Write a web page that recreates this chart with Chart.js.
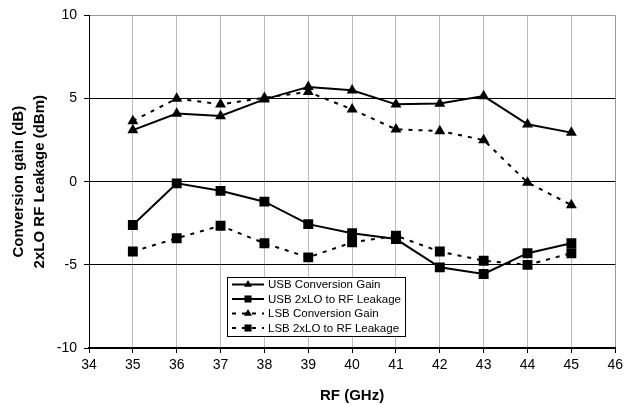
<!DOCTYPE html>
<html>
<head>
<meta charset="utf-8">
<script src="https://cdn.jsdelivr.net/npm/chart.js@4/dist/chart.umd.min.js"></script>
<style>
  html, body { margin: 0; padding: 0; background: #fff; }
  #wrap { width: 627px; height: 405px; position: relative; }
</style>
</head>
<body>
<div id="wrap"><canvas id="c" width="627" height="405"></canvas></div>
<script>
// RF frequency (GHz)
const rf = [35, 36, 37, 38, 39, 40, 41, 42, 43, 44, 45];

// Conversion gain (dB)
const usbGain = [3.1, 4.1, 3.95, 4.95, 5.7, 5.5, 4.65, 4.7, 5.15, 3.45, 2.95];
const lsbGain = [3.65, 5.0, 4.65, 5.05, 5.4, 4.35, 3.15, 3.05, 2.5, -0.05, -1.4];

// 2xLO to RF leakage (dBm)
const usbLeak = [-2.6, -0.1, -0.55, -1.2, -2.55, -3.1, -3.45, -5.15, -5.55, -4.3, -3.7];
const lsbLeak = [-4.2, -3.4, -2.65, -3.7, -4.55, -3.65, -3.25, -4.2, -4.75, -5.0, -4.3];

const seriesNames = [
  'USB Conversion Gain',
  'USB 2xLO to RF Leakage',
  'LSB Conversion Gain',
  'LSB 2xLO to RF Leakage'
];

const FONT = "'Liberation Sans', Arial, sans-serif";
const DOTS = [4, 6];

function pts(ys) { return rf.map((x, i) => ({ x: x, y: ys[i] })); }

function series(label, ys, style, dashed) {
  return {
    label: label,
    data: pts(ys),
    borderColor: '#000',
    backgroundColor: '#000',
    borderWidth: 2,
    borderDash: dashed ? DOTS : [],
    pointStyle: style,
    pointRadius: style === 'triangle' ? 6.3 : 7,
    pointBorderWidth: 0,
    pointBackgroundColor: '#000',
    tension: 0,
    fill: false
  };
}

// Boxed legend sitting inside the plot area
const boxLegend = {
  id: 'boxLegend',
  afterDraw(chart) {
    const ctx = chart.ctx;
    const x0 = 227, y0 = 277, w = 178, h = 59;
    ctx.save();
    ctx.fillStyle = '#fff';
    ctx.fillRect(x0, y0, w, h);
    ctx.strokeStyle = '#000';
    ctx.lineWidth = 1;
    ctx.strokeRect(x0 + 0.5, y0 + 0.5, w, h);
    chart.data.datasets.forEach((ds, i) => {
      const y = y0 + 7.5 + i * 14.5;
      ctx.strokeStyle = '#000';
      ctx.lineWidth = 2;
      ctx.setLineDash(ds.borderDash || []);
      ctx.beginPath();
      ctx.moveTo(x0 + 5, y);
      ctx.lineTo(x0 + 37, y);
      ctx.stroke();
      ctx.setLineDash([]);
      ctx.fillStyle = '#000';
      Chart.helpers.drawPoint(ctx, {
        pointStyle: ds.pointStyle,
        radius: ds.pointStyle === 'triangle' ? 4.6 : 5,
        borderWidth: 0
      }, x0 + 21, y);
      ctx.fillStyle = '#000';
      ctx.font = '11.5px ' + FONT;
      ctx.textBaseline = 'middle';
      ctx.textAlign = 'left';
      ctx.fillText(ds.label, x0 + 41, y + 0.5);
    });
    ctx.restore();
  }
};

new Chart(document.getElementById('c'), {
  type: 'line',
  data: {
    datasets: [
      series(seriesNames[0], usbGain, 'triangle', false),
      series(seriesNames[1], usbLeak, 'rect', false),
      series(seriesNames[2], lsbGain, 'triangle', true),
      series(seriesNames[3], lsbLeak, 'rect', true)
    ]
  },
  options: {
    responsive: false,
    animation: false,
    events: [],
    layout: { padding: { top: 15, right: 9, left: 0, bottom: 0 } },
    plugins: { legend: { display: false }, tooltip: { enabled: false } },
    scales: {
      x: {
        type: 'linear',
        min: 34, max: 46,
        afterFit(s) { s.height = 57; },
        ticks: {
          stepSize: 1,
          color: '#000',
          padding: 4,
          font: { family: FONT, size: 14 },
          maxRotation: 0
        },
        grid: {
          color: (c) => c.tick && c.tick.value === 46 ? '#999' : '#bdbdbd',
          lineWidth: 1,
          tickColor: '#000',
          tickLength: 5
        },
        border: { color: '#000', width: 1.5 },
        title: {
          display: true,
          text: 'RF (GHz)',
          color: '#000',
          font: { family: FONT, size: 15, weight: 'bold', lineHeight: 1.2 },
          padding: { top: 0, bottom: 0 }
        }
      },
      y: {
        min: -10, max: 10,
        afterFit(s) { s.width = 89; },
        ticks: {
          stepSize: 5,
          color: '#000',
          padding: 7,
          font: { family: FONT, size: 14 }
        },
        grid: {
          color: (c) => c.tick && c.tick.value === 10 ? '#999' : '#000',
          lineWidth: 1,
          tickColor: '#000',
          tickLength: 5
        },
        border: { color: '#000', width: 1 },
        title: {
          display: true,
          text: ['Conversion gain (dB)', '2xLO RF Leakage (dBm)'],
          color: '#000',
          font: { family: FONT, size: 15, weight: 'bold', lineHeight: 1.4 },
          padding: { top: 8.5, bottom: 0 }
        }
      }
    }
  },
  plugins: [boxLegend]
});
</script>
</body>
</html>
